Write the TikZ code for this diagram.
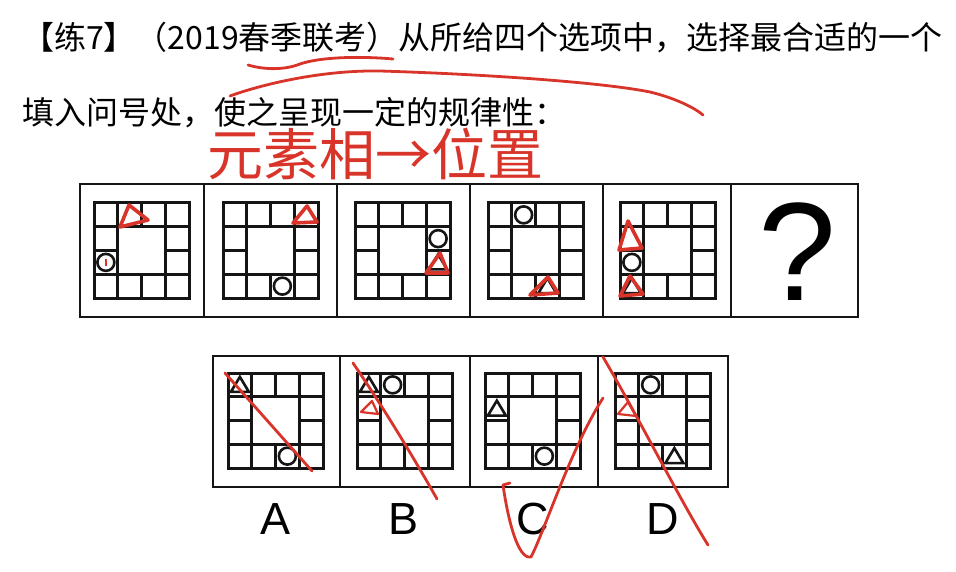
\documentclass[tikz,border=0pt]{standalone}
\usepackage{fontspec}
\setmainfont{Noto Sans CJK SC}
\newfontfamily\latinsans{Liberation Sans}
\usetikzlibrary{calc}
\definecolor{ink}{HTML}{D8342A}
\definecolor{penline}{HTML}{151515}
\newcommand{\cs}{23.75}
% ring of 12 cells, drawn at the scope origin
\newcommand{\ringgrid}{%
  \draw[gridline] (0,0) rectangle (4*\cs,4*\cs);
  \draw[gridline] (\cs,\cs) rectangle (3*\cs,3*\cs);
  \foreach \k in {1,2,3} {
    \draw[gridline] (\k*\cs,0) -- (\k*\cs,\cs);
    \draw[gridline] (\k*\cs,3*\cs) -- (\k*\cs,4*\cs);
    \draw[gridline] (0,\k*\cs) -- (\cs,\k*\cs);
    \draw[gridline] (3*\cs,\k*\cs) -- (4*\cs,\k*\cs);
  }}
\newcommand{\ringdot}[2]{\draw[shapeline] ({(#1+0.5)*\cs},{(#2+0.5)*\cs}) circle[radius=8.5pt];}
\newcommand{\ringtri}[2]{\draw[shapeline] ({(#1+0.5)*\cs-9},{(#2+0.5)*\cs+7}) -- ++(18,0) -- ++(-9,-15) -- cycle;}

\begin{document}
\begin{tikzpicture}[x=1pt,y=-1pt,
  gridline/.style={draw=penline,line width=3pt,line cap=rect},
  frame/.style={draw=penline,line width=2.2pt},
  shapeline/.style={draw=penline,line width=2.6pt,line join=miter},
  inkline/.style={draw=ink,line width=2.8pt,line cap=round,line join=round},
  inkshape/.style={draw=ink,line width=3.6pt,line join=round},
  txt/.style={anchor=base west,inner sep=0pt,font=\fontsize{32}{38}\selectfont}]
  \fill[white] (0,0) rectangle (956,572);
  \useasboundingbox (0,0) rectangle (956,572);
  % ---- question text
  \node[txt] (line1) at (22,50) {【练7】（2019春季联考）从所给四个选项中，选择最合适的一个};
  \node[txt] (line2) at (22,125) {填入问号处，使之呈现一定的规律性：};
  \node[txt,ink,font=\fontsize{56}{60}\selectfont] (note) at (207,176) {元素相→位置};
  % ---- top row of panels
  \draw[frame] (80,184) rectangle (858,317);
  \foreach \x in {204,337,470,603,731} \draw[frame] (\x,184) -- (\x,317);
  \begin{scope}[shift={(94,203)}] \ringgrid \ringdot{0}{2} \end{scope}
  \begin{scope}[shift={(223,203)}] \ringgrid \ringdot{2}{3} \end{scope}
  \begin{scope}[shift={(355,203)}] \ringgrid \ringdot{3}{1} \ringtri{3}{2} \end{scope}
  \begin{scope}[shift={(488,203)}] \ringgrid \ringdot{1}{0} \ringtri{2}{3} \end{scope}
  \begin{scope}[shift={(620,203)}] \ringgrid \ringdot{0}{2} \ringtri{0}{3} \end{scope}
  \node[font=\latinsans\fontsize{140}{140}\selectfont,inner sep=0pt] (qmark) at (797,252) {?};
  % ---- options
  \draw[frame] (213,356) rectangle (728,487);
  \foreach \x in {340,470,598} \draw[frame] (\x,356) -- (\x,487);
  \begin{scope}[shift={(228,373)}] \ringgrid \ringtri{0}{0} \ringdot{2}{3} \end{scope}
  \begin{scope}[shift={(357,373)}] \ringgrid \ringtri{0}{0} \ringdot{1}{0} \end{scope}
  \begin{scope}[shift={(485,373)}] \ringgrid \ringtri{0}{1} \ringdot{2}{3} \end{scope}
  \begin{scope}[shift={(615,373)}] \ringgrid \ringdot{1}{0} \ringtri{2}{3} \end{scope}
  \foreach \x/\l in {276/A,404/B,533/C,663/D}
    \node[font=\latinsans\fontsize{45}{45}\selectfont,inner sep=0pt] (opt\l) at (\x,519) {\l};
  % ---- red marks
  \draw[inkshape] (129,205) -- (148,220) -- (120,227) -- cycle;
  \draw[inkshape] (307,206) -- (317,222) -- (293,223) -- cycle;
  \draw[inkshape] (440,253) -- (448,273) -- (426,273) -- cycle;
  \draw[inkshape] (548,277) -- (558,293) -- (530,295) -- cycle;
  \draw[inkshape] (628,221) -- (642,248) -- (619,250) -- cycle;
  \draw[inkshape] (630,276) -- (643,294) -- (620,296) -- cycle;
  \draw[ink,line width=1.6pt] (106,259) -- (106,266);
  \draw[inkline,line width=2.2pt] (372,401) -- (378,414) -- (361,412) -- cycle;
  \draw[inkline,line width=2.2pt] (628,402) -- (636,416) -- (618,414) -- cycle;
  \draw[inkline] (248,65) .. controls (265,70) and (285,70) .. (300,64)
                          .. controls (320,57) and (360,56) .. (393,59);
  \draw[inkline] (230,96) .. controls (260,85) and (320,70) .. (380,71)
                          .. controls (480,74) and (600,82) .. (650,92)
                          .. controls (675,98) and (695,108) .. (703,115);
  \draw[inkline] (225,373) -- (312,471);
  \draw[inkline] (353,363) .. controls (385,410) and (415,460) .. (437,499);
  \draw[inkline] (510,483) -- (503,485) .. controls (508,520) and (518,560) .. (531,557)
                 .. controls (545,530) and (570,450) .. (603,398);
  \draw[inkline] (603,357) .. controls (640,420) and (680,500) .. (708,545);
\end{tikzpicture}
\end{document}
